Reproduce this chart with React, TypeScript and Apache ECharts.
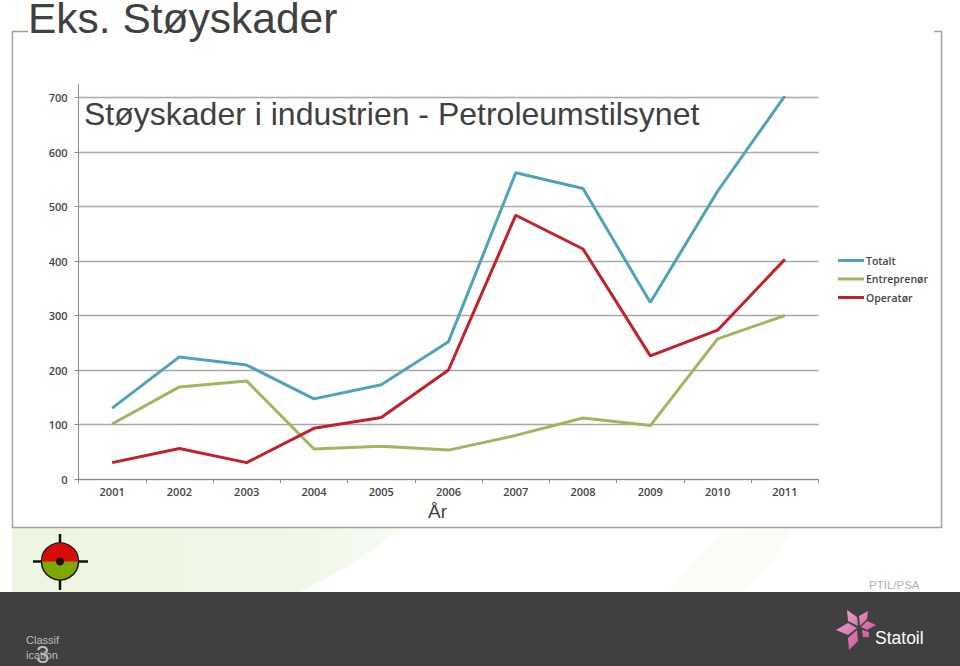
import React, { useEffect, useRef } from "react";
import * as echarts from "echarts";

const years = ["2001","2002","2003","2004","2005","2006","2007","2008","2009","2010","2011"];
const totalt = [130,224,209,147,173,252,562,533,324,528,703];
const entreprenor = [101,169,180,55,60,53,80,112,98,257,300];
const operator = [30,56,30,93,113,200,484,422,226,273,403];

const star = "M-10 -18 L0 -11 L1 -2 L-9 -7 Z M11 -17 L10 -9 L3 -2 L2 -12 Z M19 -3 L10 2 L4 -1 L10 -7 Z M-21 2 L-9 -5 L0 0 L-9 7 Z M-8 22 L-9 10 L0 2 L1 13 Z M12 9 L6 9 L5 2 L12 4 Z";
echarts.graphic.registerShape("statoilLogo", (echarts.graphic as any).extendPath(star, {}));

export default function App() {
  const ref = useRef<HTMLDivElement>(null);
  useEffect(() => {
    document.body.style.margin = "0";
    const chart = echarts.init(ref.current!, null, { renderer: "svg" });
    const mkSeries = (name: string, data: number[], color: string) => ({
      name, type: "line", data, symbol: "none", smooth: false,
      lineStyle: { color, width: 3 }, itemStyle: { color }, z: 5,
    });
    const grad = (a: string, b: string) => new echarts.graphic.LinearGradient(0, 0, 1, 1, [
      { offset: 0, color: a }, { offset: 1, color: b },
    ]);
    chart.setOption({
      animation: false,
      backgroundColor: "#ffffff",
      grid: { left: 78.5, right: 141.5, top: 97.5, bottom: 187 },
      legend: {
        orient: "vertical", left: 833, top: 250, itemWidth: 26, itemHeight: 3, itemGap: 7.5,
        icon: "rect",
        data: ["Totalt", "Entreprenør", "Operatør"],
        textStyle: { fontFamily: "Open Sans", fontSize: 10.5, fontWeight: 600, color: "#454545", lineHeight: 10, padding: [0,0,0,-3] },
      },
      xAxis: {
        type: "category", data: years, boundaryGap: true,
        axisLine: { lineStyle: { color: "#8c8c8c", width: 1 } },
        axisTick: { show: true, length: 4, lineStyle: { color: "#8c8c8c" } },
        axisLabel: { fontFamily: "Open Sans", fontSize: 11, fontWeight: 600, color: "#444444", margin: 7 },
      },
      yAxis: {
        type: "value", min: 0, max: 700, interval: 100,
        axisLine: { show: true, lineStyle: { color: "#8c8c8c", width: 1 } },
        axisTick: { show: true, length: 4, lineStyle: { color: "#8c8c8c" } },
        axisLabel: { fontFamily: "Open Sans", fontSize: 11, fontWeight: 600, color: "#444444", margin: 11 },
        splitLine: { lineStyle: { color: "#a8a8a8", width: 1.4 } },
      },
      series: [
        mkSeries("Totalt", totalt, "#4fa3b8"),
        mkSeries("Entreprenør", entreprenor, "#9db760"),
        mkSeries("Operatør", operator, "#c2202b"),
      ],
      graphic: [
        { type: "polygon", z: -9, shape: { points: [[12,528],[400,528],[375,548],[345,568],[300,592],[12,592]] },
          style: { fill: new echarts.graphic.LinearGradient(0, 0, 1, 0, [{ offset: 0, color: "#edf6e2" }, { offset: 0.7, color: "#eff7e6" }, { offset: 1, color: "#f7fbf1" }]) } },
        { type: "polygon", z: -9, shape: { points: [[668,592],[700,555],[725,530],[793,528],[770,565],[740,592]] }, style: { fill: "#fafcf6" } },
        { type: "polyline", z: 1, shape: { points: [[28,31.5],[12.5,31.5],[12.5,527.5],[941.5,527.5],[941.5,31.5],[934,31.5]] }, style: { fill: "none", stroke: "#a3a3a3", lineWidth: 1.5 } },
        { type: "line", z: 1, shape: { x1: 78.5, y1: 84, x2: 78.5, y2: 97.5 }, style: { stroke: "#8c8c8c", lineWidth: 1 } },
        { type: "text", z: 10, x: 28, y: 0, style: { text: "Eks. Støyskader", fontFamily: "Liberation Sans", fontSize: 42.5, lineHeight: 36, fill: "#404040" } },
        { type: "text", z: 10, x: 84, y: 97.5, style: { text: "Støyskader i industrien - Petroleumstilsynet", fontFamily: "Liberation Sans", fontSize: 32, fill: "#404040" } },
        { type: "text", z: 10, x: 428, y: 502, style: { text: "År", fontFamily: "Liberation Sans", fontSize: 19, fill: "#404040" } },
        { type: "text", z: 10, x: 869, y: 578.5, style: { text: "PTIL/PSA", fontFamily: "Liberation Sans", fontSize: 11.5, fill: "#b0b0b0" } },
        { type: "rect", z: 8, shape: { x: 0, y: 592, width: 960, height: 74 }, style: { fill: "#404040" } },
        { type: "text", z: 10, x: 26, y: 634, style: { text: "Classif", fontFamily: "Liberation Sans", fontSize: 11, fill: "#bdbdbd" } },
        { type: "text", z: 10, x: 26, y: 649, style: { text: "ication", fontFamily: "Liberation Sans", fontSize: 11, fill: "#bdbdbd" } },
        { type: "text", z: 11, x: 36, y: 643, style: { text: "3", fontFamily: "Liberation Sans", fontSize: 24, lineHeight: 22, fill: "#bdbdbd" } },
        { type: "text", z: 10, x: 875, y: 629, style: { text: "Statoil", fontFamily: "Liberation Sans", fontSize: 17.5, fill: "#ffffff" } },
        { type: "statoilLogo", z: 10, x: 857, y: 628, style: { fill: grad("#eab0d2", "#c8408c") } },
        { type: "line", z: 9, shape: { x1: 60, y1: 534, x2: 60, y2: 590 }, style: { stroke: "#111111", lineWidth: 2.5 } },
        { type: "line", z: 9, shape: { x1: 33, y1: 561.5, x2: 88, y2: 561.5 }, style: { stroke: "#111111", lineWidth: 2.5 } },
        { type: "circle", z: 10, shape: { cx: 60, cy: 561.5, r: 18.5 }, style: { fill: "#7fa800", stroke: "#1a1a1a", lineWidth: 1.5 } },
        { type: "sector", z: 11, shape: { cx: 60, cy: 561.5, r0: 0, r: 18, startAngle: Math.PI, endAngle: 2 * Math.PI }, style: { fill: "#d80a0a" } },
        { type: "circle", z: 12, shape: { cx: 60, cy: 561.5, r: 4 }, style: { fill: "#141414" } },
      ],
    });
    return () => chart.dispose();
  }, []);
  return <div ref={ref} style={{ width: 960, height: 666 }} />;
}
